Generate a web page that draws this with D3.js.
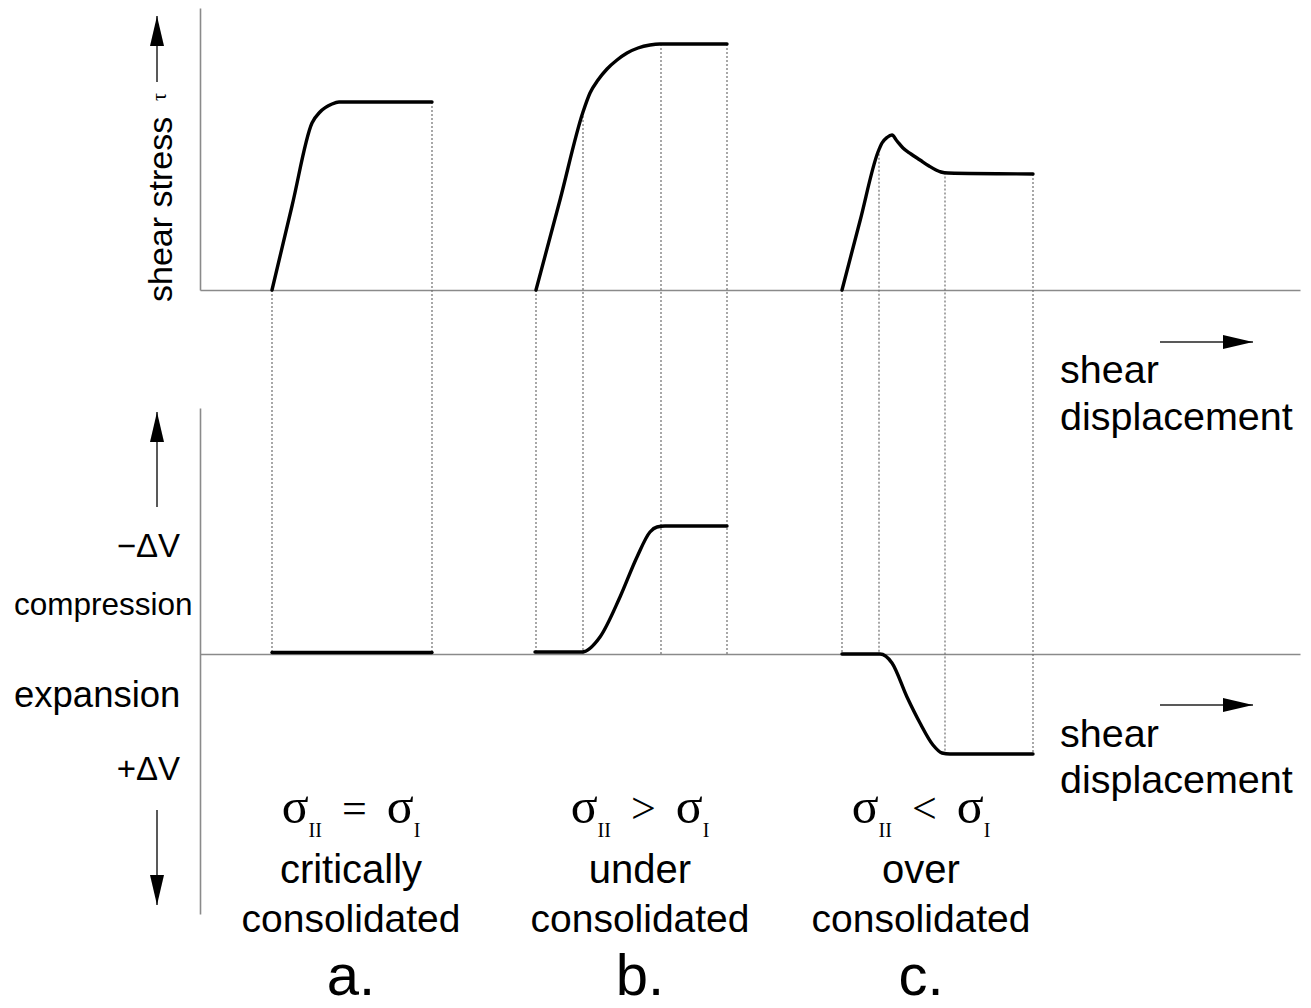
<!DOCTYPE html>
<html>
<head>
<meta charset="utf-8">
<script src="https://cdn.jsdelivr.net/npm/d3@7"></script>
<style>
  body { margin: 0; background: #fff; }
  svg { display: block; }
</style>
</head>
<body>
<svg id="chart" width="1311" height="1008"></svg>
<script>
// Direct shear behaviour of a soil: shear stress τ (upper panel) and
// volume change ΔV (lower panel) against shear displacement, for three
// states of consolidation.

// ---- data -------------------------------------------------------------
const displacementDomain = [0, 110];
const stressDomain = [0, 28.2];
const volumeDomain = [-26, 24.6];   // > 0 : compression (−ΔV), < 0 : expansion (+ΔV)

const panelLetters   = ["a.", "b.", "c."];
const stateWords     = ["critically", "under", "over"];
const stateNoun      = "consolidated";
const stressRelation = ["=", ">", "<"];

// shear stress τ  [displacement, τ]
const stressA = [[7.2, 0], [9.2, 8.4], [11.2, 16.7], [12.0, 17.8], [13.2, 18.6], [13.9, 18.8], [23.2, 18.8]];
const stressB = [[33.6, 0], [36.0, 9.0], [38.3, 17.8], [39.0, 19.7], [39.8, 21.0], [40.7, 22.1], [41.7, 23.0],
                 [42.7, 23.7], [43.8, 24.2], [45.0, 24.5], [46.0, 24.6], [52.7, 24.6]];
const stressC = [[64.2, 0], [66.0, 6.9], [67.8, 13.8], [68.2, 14.7], [68.7, 15.25], [69.2, 15.5], [69.7, 14.9],
                 [70.3, 14.2], [71.1, 13.6], [72.0, 13.0], [72.9, 12.4], [73.6, 12.0], [74.1, 11.8], [74.8, 11.7],
                 [83.3, 11.6]];

// volume change  [displacement, ΔV]  (compression positive)
const volumeA = [[7.2, 0.15], [23.2, 0.15]];
const volumeB = [[33.5, 0.2], [38.2, 0.2], [40.0, 1.7], [42.0, 5.7], [43.7, 9.7], [45.0, 12.2], [45.7, 12.7], [46.5, 12.8], [52.7, 12.8]];
const volumeC = [[64.2, 0], [68.0, 0], [69.2, -0.9], [70.7, -4.3], [72.0, -6.9], [73.3, -9.1], [74.2, -9.9], [75.0, -10.0], [83.3, -10.0]];

// displacements marked by dotted construction lines
const guidesA = [7.2, 23.2];
const guidesB = [33.6, 38.3, 46.1, 52.7];
const guidesC = [64.2, 67.9, 74.5, 83.3];

// ---- layout -----------------------------------------------------------
const sans  = "'Liberation Sans', Arial, Helvetica, sans-serif";
const serif = "'Liberation Serif', 'Times New Roman', serif";
const captionX = [351, 640, 921];

const svg = d3.select("#chart");
svg.append("rect").attr("width", 1311).attr("height", 1008).attr("fill", "#fff");

const x    = d3.scaleLinear().domain(displacementDomain).range([200, 1300]);
const yTau = d3.scaleLinear().domain(stressDomain).range([290, 8]);
const yVol = d3.scaleLinear().domain(volumeDomain).range([914, 408]);

// ---- axes (plain lines, no ticks) --------------------------------------
function styleAxis(g) {
  g.select(".domain").attr("stroke", "#8a8a8a").attr("stroke-width", 1.6);
}
svg.append("g").attr("transform", `translate(0,${yTau(0)})`)
  .call(d3.axisBottom(x).tickValues([]).tickSizeOuter(0)).call(styleAxis);
svg.append("g").attr("transform", `translate(${x(0)},0)`)
  .call(d3.axisLeft(yTau).tickValues([]).tickSizeOuter(0)).call(styleAxis);
svg.append("g").attr("transform", `translate(0,${yVol(0)})`)
  .call(d3.axisBottom(x).tickValues([]).tickSizeOuter(0)).call(styleAxis);
svg.append("g").attr("transform", `translate(${x(0)},0)`)
  .call(d3.axisLeft(yVol).tickValues([]).tickSizeOuter(0)).call(styleAxis);

// ---- dotted construction lines ----------------------------------------
function valueAt(series, d) {
  const i = d3.bisector(p => p[0]).left(series, d);
  if (i <= 0) return series[0][1];
  if (i >= series.length) return series[series.length - 1][1];
  const a = series[i - 1], b = series[i];
  return a[1] + (b[1] - a[1]) * (d - a[0]) / (b[0] - a[0]);
}

const panels = [
  { stress: stressA, volume: volumeA, guides: guidesA },
  { stress: stressB, volume: volumeB, guides: guidesB },
  { stress: stressC, volume: volumeC, guides: guidesC }
];

const guideLayer = svg.append("g")
  .attr("stroke", "#6e6e6e").attr("stroke-width", 1.2).attr("stroke-dasharray", "2,2");
panels.forEach(p => {
  guideLayer.selectAll(null).data(p.guides).join("line")
    .attr("x1", d => x(d)).attr("x2", d => x(d))
    .attr("y1", d => yTau(valueAt(p.stress, d)))
    .attr("y2", d => yVol(Math.min(0, valueAt(p.volume, d))));
});

// ---- curves -----------------------------------------------------------
const stressLine = d3.line().x(d => x(d[0])).y(d => yTau(d[1])).curve(d3.curveMonotoneX);
const volumeLine = d3.line().x(d => x(d[0])).y(d => yVol(d[1])).curve(d3.curveMonotoneX);

const curveLayer = svg.append("g")
  .attr("fill", "none").attr("stroke", "#000").attr("stroke-width", 3.4)
  .attr("stroke-linejoin", "round").attr("stroke-linecap", "round");
panels.forEach(p => {
  curveLayer.append("path").attr("d", stressLine(p.stress));
  curveLayer.append("path").attr("d", volumeLine(p.volume));
});

// ---- arrows -----------------------------------------------------------
svg.append("defs").append("marker")
  .attr("id", "head").attr("markerUnits", "userSpaceOnUse")
  .attr("viewBox", "-30 -8 30 16").attr("markerWidth", 30).attr("markerHeight", 16)
  .attr("refX", 0).attr("refY", 0).attr("orient", "auto")
  .append("path").attr("d", "M-30,-7L0,0L-30,7Z").attr("fill", "#000");

const arrows = [
  [157, 82, 157, 16],
  [157, 507, 157, 412],
  [157, 810, 157, 905],
  [1160, 342, 1253, 342],
  [1160, 705, 1253, 705]
];
svg.append("g").selectAll("line").data(arrows).join("line")
  .attr("x1", d => d[0]).attr("y1", d => d[1]).attr("x2", d => d[2]).attr("y2", d => d[3])
  .attr("stroke", "#222").attr("stroke-width", 1.5).attr("marker-end", "url(#head)");

// ---- axis labels -----------------------------------------------------
svg.append("text").attr("transform", "translate(172,302) rotate(-90)")
  .attr("font-family", sans).attr("font-size", 34).attr("fill", "#000").text("shear stress");
svg.append("text").attr("transform", "translate(166,101) rotate(-90)")
  .attr("font-family", serif).attr("font-size", 20).attr("fill", "#000").text("τ");

[[383, 430], [747, 793]].forEach(([y1, y2]) => {
  svg.append("text").attr("x", 1060).attr("y", y1)
    .attr("font-family", sans).attr("font-size", 39.5).attr("fill", "#000").text("shear");
  svg.append("text").attr("x", 1060).attr("y", y2)
    .attr("font-family", sans).attr("font-size", 39.5).attr("fill", "#000").text("displacement");
});

const sideLabels = [
  { text: "−ΔV", x: 180, y: 557, size: 33, anchor: "end" },
  { text: "compression", x: 14, y: 615, size: 31.5, anchor: "start" },
  { text: "expansion", x: 14, y: 707, size: 36.5, anchor: "start" },
  { text: "+ΔV", x: 180, y: 780, size: 33, anchor: "end" }
];
svg.append("g").selectAll("text").data(sideLabels).join("text")
  .attr("x", d => d.x).attr("y", d => d.y).attr("text-anchor", d => d.anchor)
  .attr("font-family", sans).attr("font-size", d => d.size).attr("fill", "#000")
  .text(d => d.text);

// ---- captions under each case ----------------------------------------
panelLetters.forEach((letter, i) => {
  const cx = captionX[i];
  const rel = svg.append("text").attr("x", cx).attr("y", 823)
    .attr("text-anchor", "middle").attr("font-family", serif).attr("fill", "#000");
  rel.append("tspan").attr("font-size", 50).text("σ");
  rel.append("tspan").attr("font-size", 20).attr("dy", 14).text("II");
  rel.append("tspan").attr("font-size", 44).attr("dy", -14).attr("dx", 20).text(stressRelation[i]);
  rel.append("tspan").attr("font-size", 50).attr("dx", 20).text("σ");
  rel.append("tspan").attr("font-size", 20).attr("dy", 14).text("I");

  svg.append("text").attr("x", cx).attr("y", 883).attr("text-anchor", "middle")
    .attr("font-family", sans).attr("font-size", 40).attr("fill", "#000").text(stateWords[i]);
  svg.append("text").attr("x", cx).attr("y", 932).attr("text-anchor", "middle")
    .attr("font-family", sans).attr("font-size", 39).attr("fill", "#000").text(stateNoun);
  svg.append("text").attr("x", cx).attr("y", 995).attr("text-anchor", "middle")
    .attr("font-family", sans).attr("font-size", 58).attr("fill", "#000").text(letter);
});
</script>
</body>
</html>
